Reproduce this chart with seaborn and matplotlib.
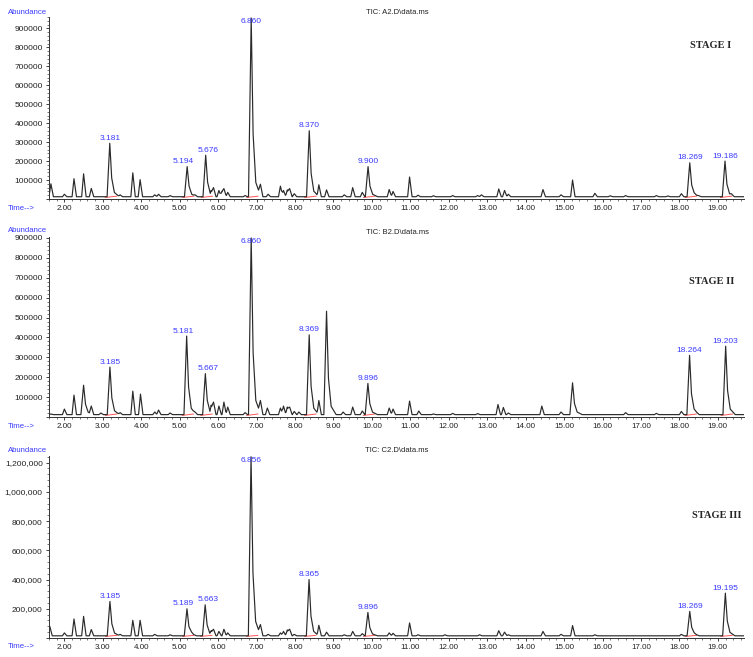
import numpy as np
import pandas as pd
import matplotlib
matplotlib.use('Agg')
import matplotlib.pyplot as plt
import seaborn as sns
from matplotlib.ticker import MultipleLocator, FuncFormatter

# ── Data (retention time in min, abundance) ───────────────
stage1_times = [1.65, 2.00, 2.25, 2.50, 2.70, 3.181, 3.45, 3.78, 3.97, 4.35, 4.45, 4.75,
                5.194, 5.40, 5.676, 5.82, 5.88, 6.02, 6.10, 6.15, 6.25, 6.70, 6.860, 7.10,
                7.30, 7.62, 7.70, 7.80, 7.86, 7.98, 8.370, 8.52, 8.62, 8.82, 9.28, 9.50,
                9.75, 9.900, 10.45, 10.55, 10.98, 11.20, 11.60, 12.10, 12.75, 12.85, 13.30,
                13.45, 13.55, 14.45, 14.92, 15.22, 15.80, 16.20, 16.60, 17.40, 17.70, 18.05,
                18.269, 18.38, 18.50, 19.186, 19.35]
stage1_heights = [80000, 25000, 107000, 133000, 56000, 294000, 22000, 138000, 102000, 22000, 25000, 18000,
                  171000, 22000, 231000, 45000, 60000, 45000, 40000, 55000, 35000, 18000, 955000, 78000,
                  25000, 68000, 45000, 48000, 55000, 28000, 360000, 35000, 75000, 48000, 22000, 60000,
                  35000, 171000, 50000, 40000, 116000, 20000, 17000, 18000, 18000, 22000, 53000,
                  45000, 25000, 50000, 22000, 100000, 30000, 17000, 18000, 18000, 16000, 28000,
                  191000, 35000, 18000, 200000, 28000]

stage2_times = [1.65, 2.00, 2.25, 2.50, 2.70, 2.95, 3.185, 3.45, 3.78, 3.98, 4.35, 4.45, 4.75,
                5.181, 5.40, 5.667, 5.82, 5.88, 6.02, 6.15, 6.25, 6.70, 6.860, 7.10, 7.28,
                7.62, 7.70, 7.80, 7.86, 7.98, 8.10, 8.369, 8.52, 8.62, 8.82, 9.25, 9.50,
                9.75, 9.896, 10.45, 10.55, 10.98, 11.22, 11.60, 12.10, 12.75, 13.28, 13.42,
                13.55, 14.42, 14.92, 15.22, 16.60, 17.40, 18.05, 18.264, 18.38, 19.203, 19.35]
stage2_heights = [15000, 40000, 110000, 160000, 55000, 20000, 251000, 22000, 130000, 115000, 25000, 35000, 20000,
                  407000, 25000, 218000, 60000, 75000, 55000, 75000, 50000, 22000, 900000, 83000, 45000,
                  45000, 55000, 50000, 50000, 28000, 25000, 413000, 35000, 83000, 532000, 25000, 50000,
                  30000, 169000, 45000, 40000, 80000, 30000, 15000, 18000, 17000, 63000, 48000,
                  20000, 55000, 25000, 172000, 22000, 18000, 28000, 310000, 42000, 356000, 32000]

stage3_times = [1.62, 2.00, 2.25, 2.50, 2.70, 3.185, 3.45, 3.78, 3.97, 4.35, 4.75, 5.189,
                5.30, 5.663, 5.82, 5.88, 6.02, 6.15, 6.25, 6.856, 7.10, 7.30, 7.62, 7.70,
                7.80, 7.86, 7.98, 8.365, 8.52, 8.62, 8.82, 9.28, 9.50, 9.75, 9.896, 10.45,
                10.55, 10.98, 11.20, 11.90, 12.80, 13.30, 13.45, 13.55, 14.45, 14.92, 15.22,
                15.80, 18.05, 18.269, 18.38, 19.195, 19.35]
stage3_heights = [80000, 35000, 130000, 148000, 58000, 250000, 25000, 121000, 121000, 25000, 22000, 200000,
                  45000, 227000, 50000, 60000, 45000, 60000, 35000, 1240000, 92000, 25000, 35000, 45000,
                  55000, 60000, 25000, 400000, 35000, 87000, 40000, 22000, 45000, 30000, 175000, 35000,
                  32000, 103000, 22000, 22000, 22000, 50000, 40000, 22000, 45000, 25000, 85000,
                  22000, 25000, 182000, 38000, 307000, 30000]

stage1_labels = ['3.181', '5.194', '5.676', '6.860', '8.370', '9.900', '18.269', '19.186']
stage2_labels = ['3.185', '5.181', '5.667', '6.860', '8.369', '9.896', '18.264', '19.203']
stage3_labels = ['3.185', '5.189', '5.663', '6.856', '8.365', '9.896', '18.269', '19.195']

files = ['A2.D\\data.ms', 'B2.D\\data.ms', 'C2.D\\data.ms']
stage_names = ['STAGE I', 'STAGE II', 'STAGE III']
y_tops = [960000, 905000, 1245000]
y_steps = [100000, 100000, 200000]
baselines = [12000, 12000, 15000]

stages = [(stage1_times, stage1_heights, stage1_labels),
          (stage2_times, stage2_heights, stage2_labels),
          (stage3_times, stage3_heights, stage3_labels)]

BLUE = '#3a3aff'
W, H = 753, 657

sns.set_style('ticks')
plt.rcParams['font.family'] = ['Liberation Sans', 'DejaVu Sans']

fig = plt.figure(figsize=(W / 100, H / 100), dpi=100)

# axes box in pixels: (top, bottom)
boxes = [(17, 199), (237, 417), (456, 638)]
x_left, x_right = 49, 744
title_y = [13, 231, 451]
time_y = [208, 427, 647]
stage_pos = [(711, 45), (712, 281), (717, 516)]


def peak_trace(times, heights, base):
    # chromatogram line: each read-off peak drawn as a tailing spike on the baseline
    shapes = []
    for t, h in zip(times, heights):
        a = h - base
        if h > 150000:
            xs = [t - 0.07, t, t + 0.05, t + 0.12, t + 0.25]
            ys = [0, a, 0.35 * a, 0.08 * a, 0]
        else:
            xs = [t - 0.05, t, t + 0.065]
            ys = [0, a, 0]
        shapes.append((xs, ys))
    grid = np.unique(np.concatenate([[1.55, 19.7]] + [s[0] for s in shapes]))
    total = np.zeros_like(grid)
    for xs, ys in shapes:
        total = np.maximum(total, np.interp(grid, xs, ys, left=0, right=0))
    return pd.DataFrame({'time': grid, 'abundance': total + base})


for i, (times, heights, labels) in enumerate(stages):
    top, bottom = boxes[i]
    ax = fig.add_axes([x_left / W, 1 - bottom / H, (x_right - x_left) / W, (bottom - top) / H])
    df = peak_trace(times, heights, baselines[i])
    sns.lineplot(data=df, x='time', y='abundance', ax=ax, color='#2a2a2a',
                 linewidth=0.85, sort=False, estimator=None)

    # integration baselines (red) + peak labels (blue)
    for k, lab in enumerate(labels):
        t = float(lab)
        h = heights[int(np.argmin(np.abs(np.array(times) - t)))]
        ax.plot([t - 0.12, t + 0.18], [baselines[i] - 4000, baselines[i] + 3000],
                color='#ff5555', lw=0.7, zorder=1)
        dx = 0
        if k + 1 < len(labels) and float(labels[k + 1]) - t < 0.55:
            dx = -2.5
        elif k > 0 and t - float(labels[k - 1]) < 0.55:
            dx = 2
        if h > 0.9 * y_tops[i]:
            ax.annotate(lab, (t, y_tops[i]), xytext=(dx, -1), textcoords='offset points',
                        ha='center', va='top', color=BLUE, fontsize=6.0, annotation_clip=False)
        else:
            ax.annotate(lab, (t, h), xytext=(dx, 1), textcoords='offset points',
                        ha='center', va='bottom', color=BLUE, fontsize=6.0)

    ax.set_xlim(1.6, 19.68)
    ax.set_ylim(0, y_tops[i])
    ax.xaxis.set_major_locator(MultipleLocator(1))
    ax.xaxis.set_minor_locator(MultipleLocator(0.2))
    ax.xaxis.set_major_formatter(FuncFormatter(lambda v, p: f'{v:.2f}'))
    ax.yaxis.set_major_locator(MultipleLocator(y_steps[i]))
    ax.yaxis.set_minor_locator(MultipleLocator(y_steps[i] / 5))
    if i == 2:
        ax.yaxis.set_major_formatter(FuncFormatter(lambda v, p: f'{int(v):,}' if v > 0 else ''))
    else:
        ax.yaxis.set_major_formatter(FuncFormatter(lambda v, p: f'{int(v)}' if v > 0 else ''))
    ax.tick_params(axis='y', which='major', labelsize=6.0, length=2.5, width=0.6,
                   pad=2, colors='#222222')
    ax.tick_params(axis='x', which='major', labelsize=5.8, length=2.5, width=0.6,
                   pad=2, colors='#222222')
    ax.tick_params(axis='both', which='minor', length=1.5, width=0.5, colors='#444444')
    ax.set_xlabel('')
    ax.set_ylabel('')
    sns.despine(ax=ax)
    for s in ['left', 'bottom']:
        ax.spines[s].set_linewidth(0.7)
        ax.spines[s].set_color('#333333')

    fig.text(8 / W, 1 - title_y[i] / H, 'Abundance', color=BLUE, fontsize=5.6,
             ha='left', va='center')
    fig.text(8 / W, 1 - time_y[i] / H, 'Time-->', color=BLUE, fontsize=5.6,
             ha='left', va='center')
    fig.text(397 / W, 1 - (title_y[i] + (2 if i == 1 else 0)) / H, 'TIC: ' + files[i],
             color='#222222', fontsize=5.5, ha='center', va='center')
    sx, sy = stage_pos[i]
    fig.text(sx / W, 1 - sy / H, stage_names[i], fontsize=7.5, fontweight='bold',
             family=['Liberation Serif', 'DejaVu Serif'], ha='center', va='center')

fig.savefig('out.png', dpi=100)
